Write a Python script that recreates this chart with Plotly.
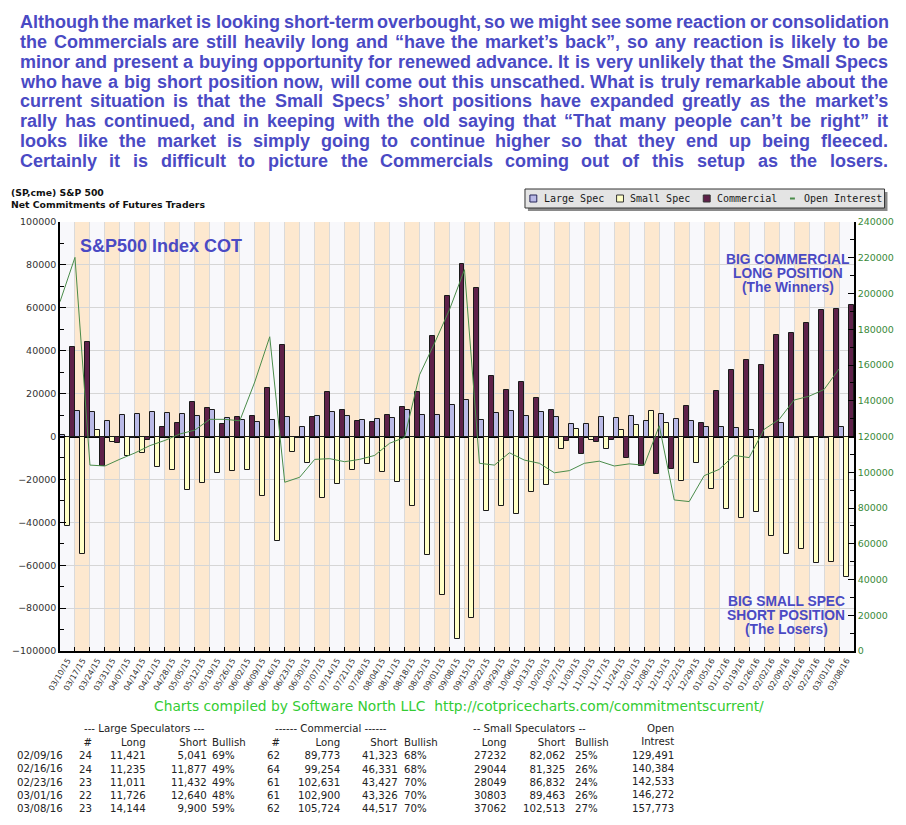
import plotly.graph_objects as go

# ---------------- data ----------------
dates = ["03/10/15", "03/17/15", "03/24/15", "03/31/15", "04/07/15", "04/14/15", "04/21/15", "04/28/15",
         "05/05/15", "05/12/15", "05/19/15", "05/26/15", "06/02/15", "06/09/15", "06/16/15", "06/23/15",
         "06/30/15", "07/07/15", "07/14/15", "07/21/15", "07/28/15", "08/04/15", "08/11/15", "08/18/15",
         "08/25/15", "09/01/15", "09/08/15", "09/15/15", "09/22/15", "09/29/15", "10/06/15", "10/13/15",
         "10/20/15", "10/27/15", "11/03/15", "11/10/15", "11/17/15", "11/24/15", "12/01/15", "12/08/15",
         "12/15/15", "12/22/15", "12/29/15", "01/05/16", "01/12/16", "01/19/16", "01/26/16", "02/02/16",
         "02/09/16", "02/16/16", "02/23/16", "03/01/16", "03/08/16"]

large_spec = [600, 11700, 11300, 7100, 9900, 10300, 11300, 10800, 10300, 9400, 12200, 8500, 7500, 6600,
              7500, 8900, 4300, 9400, 11300, 9400, 7500, 8000, 8500, 12200, 9900, 9900, 14500, 16800,
              7500, 10800, 11700, 9400, 11300, 8900, 5700, 5700, 8900, 8500, 9400, 7100, 10300, 8000,
              7100, 4300, 4300, 3800, 2900, -700, 6380, -642, -421, -914, 4244]

small_spec = [-41700, -54800, 2900, -2700, -9200, -7800, -14300, -15700, -25100, -21800, -17100, -16200,
              -15700, -27900, -48900, -7400, -12500, -28800, -22300, -15700, -12900, -16700, -21300,
              -32600, -55400, -74100, -94600, -84800, -34900, -32200, -36200, -26000, -22800, -6000,
              3300, -1800, -6000, 2900, 5200, 11700, 6100, -20900, -12500, -24600, -33900, -38100,
              -35300, -46500, -54830, -52281, -58783, -58660, -65451]

commercial = [41800, 43900, -13600, -3200, -700, -1800, 4300, 6300, 15900, 13100, 5700, 8900, 9400, 22500,
              42500, -900, 8900, 20600, 12200, 7100, 6600, 9900, 13600, 20600, 46700, 65300, 80300, 69100,
              28100, 21500, 25300, 17800, 12200, -2300, -8300, -2700, -1800, -10200, -13600, -17600,
              -15300, 14100, 6100, 21100, 30800, 35500, 33200, 47200, 48450, 52923, 59204, 59574, 61207]

open_interest = [195400, 220200, 104000, 103500, 107300, 110800, 114900, 117800, 121400, 123600, 129600,
                 129600, 128800, 150500, 175800, 94400, 97200, 107200, 107600, 105900, 107200, 109400,
                 116200, 119500, 154500, 172200, 191000, 213300, 105000, 104000, 110900, 106800, 105000,
                 99700, 100900, 105000, 106200, 103500, 104700, 103900, 126000, 84500, 83600, 98100,
                 101600, 109400, 108200, 124000, 129491, 140384, 142533, 146272, 157773]

left_ticks = [-100000, -80000, -60000, -40000, -20000, 0, 20000, 40000, 60000, 80000, 100000]
right_ticks = [0, 20000, 40000, 60000, 80000, 100000, 120000, 140000, 160000, 180000, 200000, 220000, 240000]

tbl_dates = ["02/09/16", "02/16/16", "02/23/16", "03/01/16", "03/08/16"]
ls_n = [24, 24, 23, 22, 23]
ls_long = [11421, 11235, 11011, 11726, 14144]
ls_short = [5041, 11877, 11432, 12640, 9900]
ls_bull = [69, 49, 49, 48, 59]
cm_n = [62, 64, 61, 61, 62]
cm_long = [89773, 99254, 102631, 102900, 105724]
cm_short = [41323, 46331, 43427, 43326, 44517]
cm_bull = [68, 68, 70, 70, 70]
ss_long = [27232, 29044, 28049, 30803, 37062]
ss_short = [82062, 81325, 86832, 89463, 102513]
ss_bull = [25, 26, 24, 26, 27]
oi_tbl = [129491, 140384, 142533, 146272, 157773]

header_lines = [
    "Although the market is looking short-term overbought, so we might see some reaction or consolidation",
    "the Commercials are still heavily long and \u201chave the market\u2019s back\u201d, so any reaction is likely to be",
    "minor and present a buying opportunity for renewed advance. It is very unlikely that the Small Specs",
    "who have a big short position now, will come out this unscathed. What is truly remarkable about the",
    "current situation is that the Small Specs\u2019 short positions have expanded greatly as the market\u2019s",
    "rally has continued, and in keeping with the old saying that \u201cThat many people can\u2019t be right\u201d it",
    "looks like the market is simply going to continue higher so that they end up being fleeced.",
    "Certainly it is difficult to picture the Commercials coming out of this setup as the losers.",
]

# ---------------- styles ----------------
C_LARGE = "#b9b9e6"
C_SMALL = "#ffffc6"
C_COMM = "#5e2149"
C_OI = "#4a8c4a"
BLUE = "#4a4ac4"
W, H = 906, 825
PL, PR, PT, PB = 53, 859, 222, 651


def xp(x):
    return (x - PL) / (PR - PL)


def yp(y):
    return (PB - y) / (PB - PT)


ARIAL_B = {" ": 278, "!": 333, "&": 722, "(": 333, ")": 333, ",": 278, "-": 333, ".": 278, "/": 278,
           ":": 333, "\u201c": 500, "\u201d": 500, "\u2019": 278, "\u2018": 278, "'": 238,
           "A": 722, "B": 722, "C": 722, "D": 722, "E": 667, "F": 611, "G": 778, "H": 722, "I": 278,
           "J": 556, "K": 722, "L": 611, "M": 833, "N": 722, "O": 778, "P": 667, "Q": 778, "R": 722,
           "S": 667, "T": 611, "U": 722, "V": 667, "W": 944, "X": 667, "Y": 667, "Z": 611,
           "a": 556, "b": 611, "c": 556, "d": 611, "e": 556, "f": 333, "g": 611, "h": 611, "i": 278,
           "j": 278, "k": 556, "l": 278, "m": 889, "n": 611, "o": 611, "p": 611, "q": 611, "r": 389,
           "s": 556, "t": 333, "u": 611, "v": 556, "w": 778, "x": 556, "y": 556, "z": 500}


def text_w(s, size):
    return sum(ARIAL_B.get(c, 556) for c in s) * size / 1000.0


fig = go.Figure()
fig.add_trace(go.Bar(name="Large Spec", x=dates, y=large_spec,
                     marker=dict(color=C_LARGE, line=dict(color="#1a1a1a", width=1))))
fig.add_trace(go.Bar(name="Small Spec", x=dates, y=small_spec,
                     marker=dict(color=C_SMALL, line=dict(color="#1a1a1a", width=1))))
fig.add_trace(go.Bar(name="Commercial", x=dates, y=commercial,
                     marker=dict(color=C_COMM, line=dict(color="#1a1a1a", width=1))))
fig.add_trace(go.Scatter(name="Open Interest", x=dates, y=open_interest, xaxis="x2", yaxis="y2",
                         mode="lines", line=dict(color=C_OI, width=1)))

shapes = []
for i, d in enumerate(dates):
    if i % 2 == 1:
        shapes.append(dict(type="rect", xref="x", yref="paper", x0=i - 0.5, x1=i + 0.5, y0=0, y1=1,
                           fillcolor="#fde8cf", line=dict(width=0), layer="below"))

ann = []
FONT_HDR = "Liberation Sans, Arial, sans-serif"
# justified paragraph
LEFT, RIGHT = 12, 893
for k, line in enumerate(header_lines):
    words = line.split(" ")
    ws = [text_w(w, 18) for w in words]
    gap = (RIGHT - LEFT - sum(ws)) / (len(words) - 1)
    x = LEFT
    ycen = 22 + 19.85 * k
    for w, wd in zip(words, ws):
        ann.append(dict(text=w, x=xp(x - 1), y=yp(ycen), xref="paper", yref="paper", showarrow=False,
                        xanchor="left", yanchor="middle", borderpad=0,
                        font=dict(family=FONT_HDR, size=18, color=BLUE, weight="bold")))
        x += wd + gap

# titles
ann.append(dict(text="(SP,cme) S&P 500<br>Net Commitments of Futures Traders", x=xp(2), y=yp(199),
                xref="paper", yref="paper", showarrow=False, xanchor="left", yanchor="middle",
                align="left", borderpad=0,
                font=dict(family="DejaVu Sans", size=9.3, color="#111", weight="bold")))

# in-plot labels
ann.append(dict(text="S&P500 Index COT", x=xp(71), y=yp(246), xref="paper", yref="paper",
                showarrow=False, xanchor="left", yanchor="middle",
                font=dict(family=FONT_HDR, size=18, color=BLUE, weight="bold")))
for txt, xx, yy in [("BIG COMMERCIAL", 792, 259), ("LONG POSITION", 792, 273), ("(The Winners)", 792, 287),
                    ("BIG SMALL SPEC", 790, 601), ("SHORT POSITION", 790, 615), ("(The Losers)", 790, 629)]:
    ann.append(dict(text=txt, x=xp(xx), y=yp(yy), xref="paper", yref="paper", showarrow=False,
                    xanchor="center", yanchor="middle", borderpad=0,
                    font=dict(family=FONT_HDR, size=13.8, color=BLUE, weight="bold")))

# credit
ann.append(dict(text="Charts compiled by Software North LLC&nbsp; http://cotpricecharts.com/commitmentscurrent/",
                x=xp(458), y=yp(706), xref="paper", yref="paper", showarrow=False,
                xanchor="center", yanchor="middle",
                font=dict(family="DejaVu Sans", size=13.8, color="#33cc33")))

# legend (drawn)
shapes.append(dict(type="rect", xref="paper", yref="paper", x0=xp(528), x1=xp(893), y0=yp(211),
                   y1=yp(192), fillcolor="#8a8a8a", line=dict(width=0), layer="above"))
shapes.append(dict(type="rect", xref="paper", yref="paper", x0=xp(525), x1=xp(890), y0=yp(208),
                   y1=yp(189), fillcolor="#e4e4e4", line=dict(color="#333", width=1), layer="above"))
LEG_FONT = dict(family="DejaVu Sans Mono", size=10, color="#1a1a1a")
for (sx, tx, name, fill, edge) in [(530, 543, "Large Spec", C_LARGE, "#26265a"),
                                   (618, 631, "Small Spec", C_SMALL, "#333"),
                                   (706, 719, "Commercial", C_COMM, "#333")]:
    shapes.append(dict(type="rect", xref="paper", yref="paper", x0=xp(sx), x1=xp(sx + 7),
                       y0=yp(202), y1=yp(195), fillcolor=fill, line=dict(color=edge, width=1),
                       layer="above"))
    ann.append(dict(text=name, x=xp(tx - 1), y=yp(198.5), xref="paper", yref="paper", showarrow=False,
                    xanchor="left", yanchor="middle", font=LEG_FONT))
shapes.append(dict(type="line", xref="paper", yref="paper", x0=xp(794), x1=xp(799), y0=yp(198.5),
                   y1=yp(198.5), line=dict(color=C_OI, width=2), layer="above"))
ann.append(dict(text="Open Interest", x=xp(806), y=yp(198.5), xref="paper", yref="paper",
                showarrow=False, xanchor="left", yanchor="middle", font=LEG_FONT))

# table: one annotation per column (line spacing = 1.3 * font size)
TF = dict(family="DejaVu Sans", size=10.2, color="#222")


def column(lines, x, y_first, anchor):
    n = len(lines)
    step = TF["size"] * 1.3
    ycen = y_first + step * (n - 1) / 2.0
    ann.append(dict(text="<br>".join(lines), x=xp(x), y=yp(ycen), xref="paper", yref="paper",
                    showarrow=False, xanchor=anchor, yanchor="middle", align=anchor, borderpad=0,
                    font=TF))


ROW0, HDR2, HDR1 = 755, 742, 728.5
column(["--- Large Speculators ---"], 76, HDR1, "left")
column(["------ Commercial ------"], 270, HDR1, "left")
column(["-- Small Speculators --"], 471, HDR1, "left")
column(tbl_dates, 8, ROW0, "left")
column(["#"] + [str(v) for v in ls_n], 87, HDR2, "right")
column(["Long"] + [f"{v:,}" for v in ls_long], 141, HDR2, "right")
column(["Short"] + [f"{v:,}" for v in ls_short], 203, HDR2, "right")
column(["Bullish"] + [f"{v}%" for v in ls_bull], 206, HDR2, "left")
column(["#"] + [str(v) for v in cm_n], 277, HDR2, "right")
column(["Long"] + [f"{v:,}" for v in cm_long], 338, HDR2, "right")
column(["Short"] + [f"{v:,}" for v in cm_short], 397, HDR2, "right")
column(["Bullish"] + [f"{v}%" for v in cm_bull], 401, HDR2, "left")
column(["Long"] + [str(v) for v in ss_long], 507, HDR2, "right")
column(["Short"] + [f"{v:,}" for v in ss_short], 567, HDR2, "right")
column(["Bullish"] + [f"{v}%" for v in ss_bull], 575, HDR2, "left")
column(["Open", "Intrest"] + [f"{v:,}" for v in oi_tbl], 677, 729, "right")

fig.update_layout(
    width=W, height=H,
    margin=dict(l=PL, r=W - PR, t=PT, b=H - PB, pad=0),
    paper_bgcolor="white", plot_bgcolor="#f8f8fb",
    barmode="group", bargap=0, bargroupgap=0,
    showlegend=False,
    shapes=shapes, annotations=ann,
    xaxis=dict(type="category", categoryorder="array", categoryarray=dates, range=[-0.5, len(dates) - 0.5],
               tickson="boundaries", ticks="inside", ticklen=4, tickcolor="#000", tickwidth=1,
               tickangle=-60, tickfont=dict(family="DejaVu Sans", size=8, color="#333"),
               showgrid=True, gridcolor="#dadada", gridwidth=1,
               showline=True, linecolor="#000", linewidth=1.5, zeroline=False),
    xaxis2=dict(type="category", categoryorder="array", categoryarray=dates, range=[0, len(dates)],
                overlaying="x", visible=False),
    yaxis=dict(range=[-100000, 100000], tickvals=left_ticks, tickformat="d",
               ticks="inside", ticklen=6, tickcolor="#000",
               minor=dict(dtick=10000, ticks="inside", ticklen=4, tickcolor="#000", showgrid=False),
               tickfont=dict(family="DejaVu Sans", size=9.5, color="#333"),
               showgrid=True, gridcolor="#d6d6d6", gridwidth=1,
               zeroline=True, zerolinecolor="#000", zerolinewidth=1.5,
               showline=True, linecolor="#000", linewidth=1.5),
    yaxis2=dict(range=[0, 240000], tickvals=right_ticks, tickformat="d", overlaying="y", side="right",
                anchor="x", ticks="inside", ticklen=6, tickcolor="#000",
                minor=dict(dtick=10000, ticks="inside", ticklen=4, tickcolor="#000", showgrid=False),
                tickfont=dict(family="DejaVu Sans", size=9.5, color="#3a8a3a"),
                showgrid=False, zeroline=False, showline=True, linecolor="#000", linewidth=1.5),
)

fig.write_html("out.html", config={"displayModeBar": False},
               post_script="document.body.style.margin='0px';")
